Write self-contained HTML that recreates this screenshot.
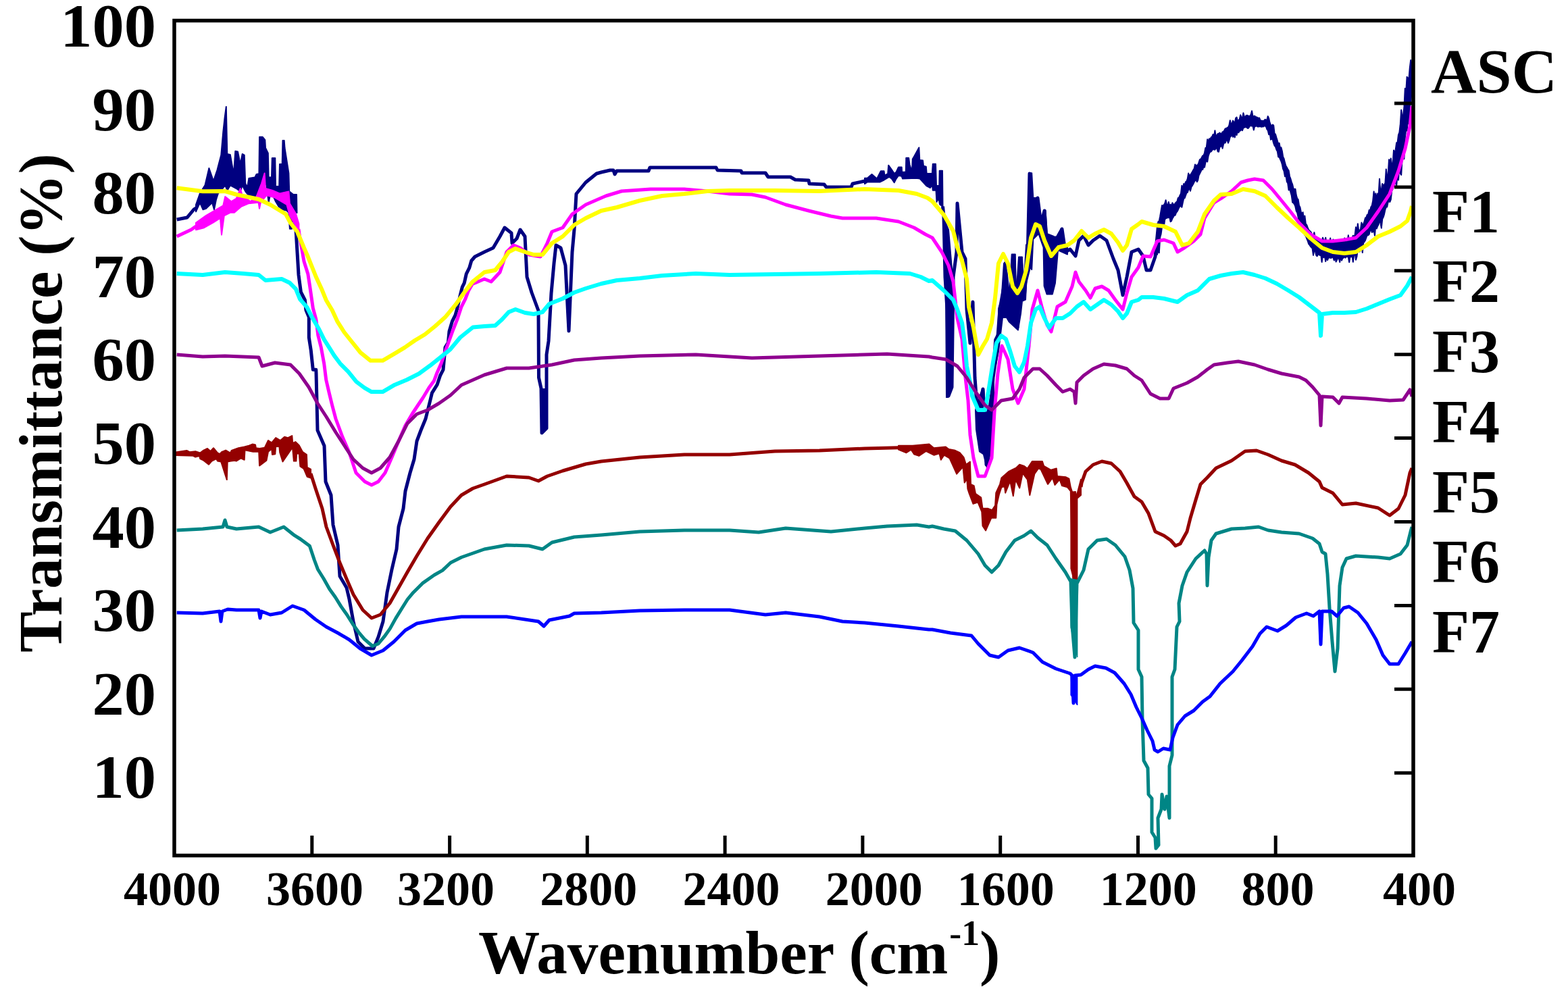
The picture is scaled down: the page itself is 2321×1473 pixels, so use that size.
<!DOCTYPE html>
<html><head><meta charset="utf-8"><style>
html,body{margin:0;padding:0;background:#fff;}
svg{display:block;}
text{font-family:"Liberation Serif","Times New Roman",serif;font-weight:bold;fill:#000;}
</style></head><body>
<svg width="2321" height="1473" viewBox="0 0 2321 1473">
<rect width="2321" height="1473" fill="#fff"/>
<g fill="none" stroke-linejoin="round" stroke-linecap="butt">
<path d="M261.7 325.0L277.0 322.0L287.0 310.0L290.0 308.0" stroke="#000080" stroke-width="5"/>
<path d="M290.0 303.0L296.0 286.0L303.4 274.4L309.4 249.0L316.0 268.0L321.4 252.0L327.3 229.6L330.3 195.3L332.6 174.4L334.8 158.0L336.3 228.0L340.8 229.0L346.0 258.0L348.3 223.7L352.0 224.4L355.7 243.0L358.7 228.0L361.7 229.6L363.2 271.5L366.2 277.4L368.4 264.0L377.4 262.5L379.6 258.0L383.4 257.3L384.1 202.7L388.6 202.7L392.3 207.2L393.0 219.0L396.8 226.6L397.6 262.5L402.0 262.5L402.8 234.0L407.3 234.0L408.0 276.0L413.2 276.0L414.0 243.0L417.7 243.0L418.5 208.0L420.7 208.0L421.5 219.0L427.4 256.5L428.2 283.4L434.2 288.0L436.0 288.0L439.0 288.0L439.5 315.0L439.5 315.0L436.0 314.0L433.4 314.8L431.9 338.7L428.9 338.7L427.4 314.8L424.4 311.8L418.5 310.3L412.5 305.8L408.0 298.3L403.5 288.0L399.8 289.4L397.6 299.8L394.6 274.4L391.6 271.5L385.6 271.5L382.6 285.0L379.6 288.0L376.6 292.4L369.2 291.0L363.2 283.4L358.7 274.4L355.7 283.4L349.8 279.0L340.8 274.4L336.3 282.0L333.3 274.4L327.3 282.0L322.9 286.4L320.0 295.4L317.0 310.3L314.0 300.0L305.0 308.8L300.5 310.3L296.0 300.0L290.0 313.3Z" fill="#000080" stroke="#000080" stroke-width="2"/>
<path d="M436.0 326.0L438.0 340.0L442.0 407.0L445.4 432.3L451.4 444.2L452.9 459.0L457.3 469.6L457.3 499.5L460.3 518.9L463.3 547.3L467.8 547.3L468.0 552.0L470.0 637.0L480.0 660.0L482.0 713.0L490.0 733.0L493.0 777.0L500.0 807.0L503.0 853.0L513.0 870.0L517.0 887.0L523.0 920.0L530.0 950.0L540.0 960.0L553.0 960.0L560.0 943.0L567.0 920.0L573.0 877.0L580.0 843.0L587.0 813.0L590.0 780.0L597.0 753.0L600.0 727.0L607.0 700.0L613.0 680.0L617.0 653.0L623.0 637.0L630.0 620.0L637.0 592.0L639.5 581.6L647.0 569.7L651.5 556.2L656.0 547.3L659.0 514.4L663.4 507.0L665.0 490.5L669.4 475.6L673.9 466.6L676.9 456.2L681.3 436.8L684.3 424.8L687.3 418.8L690.3 405.4L694.8 396.4L697.8 386.0L703.0 380.0L717.0 373.0L730.0 367.0L740.0 350.0L747.0 337.0L757.0 345.0L758.0 360.0L765.0 353.0L770.0 340.0L777.0 350.0L780.0 410.0L787.0 433.0L797.0 460.0L797.5 559.0L801.0 575.0L802.0 641.0L809.0 634.0L809.0 525.0L812.0 505.0L816.0 434.0L820.0 390.0L823.0 363.0L830.0 367.0L837.0 393.0L842.0 490.0L847.0 373.0L850.0 340.0L853.0 287.0L867.0 270.0L883.0 257.0L890.0 255.0L903.0 252.0L908.0 252.0L910.0 258.0L913.0 253.0L960.0 253.0L962.0 248.0L1060.0 248.0L1062.0 252.0L1097.0 253.0L1098.0 256.0L1133.0 256.0L1137.0 262.0L1170.0 262.0L1177.0 266.0L1197.0 267.0L1198.0 272.0L1220.0 273.0L1223.0 277.0L1260.0 277.0L1262.0 272.0L1280.0 268.0" stroke="#000080" stroke-width="5"/>
<path d="M1280.0 263.7L1283.8 263.7L1290.5 258.0L1298.0 264.6L1303.8 253.2L1308.5 253.2L1309.5 259.9L1314.2 257.0L1315.2 244.7L1320.0 251.3L1323.7 257.0L1326.6 254.7L1330.0 247.5L1334.7 247.5L1335.1 254.7L1340.8 254.7L1341.3 233.7L1345.1 233.7L1346.5 243.7L1349.9 254.2L1350.8 235.6L1353.2 231.4L1360.3 218.5L1361.3 237.1L1366.0 237.5L1367.0 245.6L1370.8 246.6L1371.7 257.0L1379.8 257.0L1380.8 242.8L1385.0 242.8L1386.0 275.1L1390.3 275.1L1390.7 252.8L1395.0 252.8L1395.5 305.5L1395.5 305.5L1395.0 305.5L1391.2 302.7L1389.3 293.2L1386.5 298.9L1385.5 281.7L1380.8 281.7L1379.8 273.2L1377.0 278.0L1371.3 275.1L1361.7 264.6L1356.0 263.7L1336.1 264.6L1334.7 260.8L1330.0 259.9L1326.6 264.6L1323.7 270.3L1320.0 264.6L1316.1 261.8L1308.5 266.5L1302.8 269.4L1283.8 269.4L1280.0 272.2Z" fill="#000080" stroke="#000080" stroke-width="2"/>
<path d="M1395.5 305.5L1397.0 320.0L1399.0 410.0L1402.0 458.0L1404.0 586.0L1409.0 573.0L1411.0 410.0L1416.0 373.0L1417.0 301.0L1424.0 373.0L1429.0 383.0L1431.0 458.0L1436.0 508.0L1440.0 447.0L1443.0 559.0L1448.0 627.0L1453.0 661.0L1455.0 576.0L1460.0 688.0L1465.0 627.0L1470.0 559.0L1475.0 525.0L1480.0 458.0L1485.0 430.0L1489.0 403.0L1495.0 458.0L1500.0 380.0L1506.0 485.0L1511.0 383.0L1516.0 441.0L1521.0 383.0L1524.0 257.0L1529.0 349.0L1536.0 293.0L1541.0 332.0L1546.0 312.0L1550.0 366.0L1553.0 430.0L1558.0 396.0L1562.0 352.0L1567.0 359.0L1572.0 339.0L1577.0 373.0L1584.0 369.0L1592.0 379.0L1597.0 356.0L1604.0 349.0L1611.0 363.0L1618.0 356.0L1628.0 349.0L1638.0 356.0L1648.0 383.0L1655.0 400.0L1662.0 437.0L1668.0 410.0L1675.0 373.0L1685.0 369.0L1692.0 379.0L1697.0 400.0L1703.0 400.0L1710.0 380.0L1715.0 330.0" stroke="#000080" stroke-width="5"/>
<path d="M1713.0 343.8L1714.4 328.1L1715.8 327.3L1717.2 320.2L1718.6 312.0L1720.0 304.1L1721.4 304.8L1722.8 303.1L1724.2 301.3L1725.6 296.3L1727.0 302.6L1728.4 305.8L1729.8 298.9L1731.2 305.1L1732.6 302.7L1734.0 305.0L1735.4 300.2L1736.8 302.4L1738.2 304.2L1739.6 300.7L1741.0 299.4L1742.4 298.3L1743.8 293.1L1745.2 292.4L1746.6 289.1L1748.0 286.4L1749.4 274.7L1750.8 280.6L1752.2 272.0L1753.6 273.8L1755.0 269.3L1756.4 268.4L1757.8 264.6L1759.2 256.5L1760.6 260.4L1762.0 259.0L1763.4 256.8L1764.8 254.5L1766.2 251.9L1767.6 249.9L1769.0 243.4L1770.4 245.6L1771.8 244.4L1773.2 244.1L1774.6 240.4L1776.0 236.1L1777.4 235.5L1778.8 233.3L1780.2 230.4L1781.6 230.2L1783.0 226.3L1784.4 219.0L1785.8 218.5L1787.2 206.3L1788.6 209.3L1790.0 205.3L1791.4 206.1L1792.8 203.3L1794.2 202.2L1795.6 199.0L1797.0 201.9L1798.4 193.2L1799.8 201.9L1801.2 200.5L1802.6 197.9L1804.0 197.7L1805.4 196.5L1806.8 198.1L1808.2 197.8L1809.6 195.2L1811.0 195.1L1812.4 192.8L1813.8 190.2L1815.2 190.3L1816.6 189.1L1818.0 188.4L1819.4 185.4L1820.8 178.2L1822.2 184.7L1823.6 182.8L1825.0 178.6L1826.4 180.8L1827.8 181.9L1829.2 174.7L1830.6 173.6L1832.0 179.2L1833.4 178.0L1834.8 176.4L1836.2 170.2L1837.6 174.0L1839.0 175.2L1840.4 167.3L1841.8 172.3L1843.2 174.2L1844.6 170.9L1846.0 170.7L1847.4 171.3L1848.8 171.9L1850.2 171.8L1851.6 169.4L1853.0 164.3L1854.4 171.5L1855.8 172.3L1857.2 171.5L1858.6 173.4L1860.0 173.3L1861.4 174.2L1862.8 174.9L1864.2 174.6L1865.6 178.2L1867.0 178.7L1868.4 178.8L1869.8 179.2L1871.2 178.4L1872.6 176.8L1874.0 178.1L1875.4 177.0L1876.8 172.1L1878.2 175.2L1879.6 181.6L1881.0 184.8L1882.4 187.5L1883.8 184.5L1885.2 185.7L1886.6 197.9L1888.0 198.7L1889.4 203.6L1890.8 208.0L1892.2 213.2L1893.6 211.8L1895.0 219.5L1896.4 218.2L1897.8 223.4L1899.2 232.1L1900.6 234.9L1902.0 240.9L1903.4 245.5L1904.8 247.8L1906.2 250.5L1907.6 252.3L1909.0 261.0L1910.4 264.7L1911.8 269.6L1913.2 273.2L1914.6 279.2L1916.0 280.0L1917.4 279.7L1918.8 289.1L1920.2 293.9L1921.6 295.3L1923.0 304.2L1924.4 306.8L1925.8 313.6L1927.2 316.4L1928.6 314.2L1930.0 325.0L1931.4 319.6L1932.8 331.2L1934.2 332.8L1935.6 336.6L1937.0 339.9L1938.4 341.7L1939.8 342.5L1941.2 344.8L1942.6 348.4L1944.0 350.0L1945.4 344.1L1946.8 353.3L1948.2 351.1L1949.6 352.7L1951.0 354.9L1952.4 356.2L1953.8 356.9L1955.2 357.6L1956.6 357.2L1958.0 351.7L1959.4 355.9L1960.8 358.0L1962.2 351.7L1963.6 359.7L1965.0 359.5L1966.4 358.2L1967.8 359.1L1969.2 352.6L1970.6 360.0L1972.0 360.6L1973.4 354.4L1974.8 356.9L1976.2 357.8L1977.6 360.5L1979.0 359.3L1980.4 355.4L1981.8 358.8L1983.2 355.7L1984.6 357.0L1986.0 355.2L1987.4 359.4L1988.8 356.9L1990.2 352.5L1991.6 355.2L1993.0 359.1L1994.4 358.6L1995.8 348.3L1997.2 356.3L1998.6 352.9L2000.0 355.0L2001.4 353.4L2002.8 348.8L2004.2 351.1L2005.6 347.7L2007.0 336.2L2008.4 346.4L2009.8 331.2L2011.2 341.5L2012.6 341.3L2014.0 339.0L2015.4 329.4L2016.8 334.6L2018.2 331.5L2019.6 327.5L2021.0 322.4L2022.4 321.9L2023.8 317.9L2025.2 317.4L2026.6 311.1L2028.0 311.4L2029.4 306.2L2030.8 304.2L2032.2 297.1L2033.6 283.5L2035.0 292.6L2036.4 286.3L2037.8 294.8L2039.2 286.5L2040.6 288.3L2042.0 264.8L2043.4 283.9L2044.8 281.4L2046.2 272.0L2047.6 274.8L2049.0 273.4L2050.4 271.1L2051.8 250.4L2053.2 262.4L2054.6 260.3L2056.0 236.2L2057.4 239.9L2058.8 234.4L2060.2 245.1L2061.6 243.4L2063.0 222.4L2064.4 228.5L2065.8 221.2L2067.2 211.2L2068.6 211.0L2070.0 199.7L2071.4 196.0L2072.8 183.9L2074.2 162.7L2075.6 174.9L2077.0 170.4L2078.4 159.5L2079.8 130.9L2081.2 135.9L2082.6 113.8L2084.0 115.5L2085.4 117.6L2086.8 100.4L2088.2 89.0L2089.6 93.8L2089.6 137.4L2088.2 150.7L2086.8 158.9L2085.4 183.6L2084.0 176.7L2082.6 193.6L2081.2 192.5L2079.8 203.3L2078.4 235.3L2077.0 217.8L2075.6 235.0L2074.2 258.9L2072.8 256.7L2071.4 243.5L2070.0 266.6L2068.6 256.5L2067.2 275.2L2065.8 268.8L2064.4 271.8L2063.0 275.1L2061.6 279.8L2060.2 282.5L2058.8 295.3L2057.4 299.0L2056.0 298.1L2054.6 299.5L2053.2 306.4L2051.8 306.6L2050.4 310.5L2049.0 317.1L2047.6 321.6L2046.2 324.3L2044.8 337.7L2043.4 329.5L2042.0 327.0L2040.6 332.2L2039.2 334.7L2037.8 338.4L2036.4 332.5L2035.0 348.7L2033.6 341.0L2032.2 343.3L2030.8 343.9L2029.4 339.5L2028.0 341.6L2026.6 347.0L2025.2 348.2L2023.8 348.1L2022.4 351.6L2021.0 355.8L2019.6 358.1L2018.2 359.4L2016.8 374.0L2015.4 364.6L2014.0 364.9L2012.6 372.6L2011.2 369.7L2009.8 369.3L2008.4 380.0L2007.0 384.7L2005.6 373.4L2004.2 377.4L2002.8 387.8L2001.4 377.7L2000.0 380.3L1998.6 379.3L1997.2 388.2L1995.8 380.8L1994.4 379.9L1993.0 379.7L1991.6 381.7L1990.2 380.1L1988.8 381.7L1987.4 382.4L1986.0 385.5L1984.6 379.3L1983.2 388.0L1981.8 382.6L1980.4 381.5L1979.0 384.9L1977.6 387.5L1976.2 379.8L1974.8 385.4L1973.4 381.7L1972.0 380.1L1970.6 381.9L1969.2 381.7L1967.8 381.3L1966.4 381.7L1965.0 385.0L1963.6 380.7L1962.2 387.1L1960.8 378.0L1959.4 381.1L1958.0 377.5L1956.6 388.0L1955.2 376.3L1953.8 378.0L1952.4 376.7L1951.0 376.7L1949.6 379.2L1948.2 377.7L1946.8 371.2L1945.4 370.2L1944.0 377.9L1942.6 367.9L1941.2 366.2L1939.8 364.8L1938.4 362.5L1937.0 360.8L1935.6 356.3L1934.2 353.0L1932.8 349.4L1931.4 347.9L1930.0 342.8L1928.6 342.6L1927.2 338.6L1925.8 335.2L1924.4 329.6L1923.0 330.6L1921.6 321.6L1920.2 314.8L1918.8 312.5L1917.4 305.7L1916.0 302.4L1914.6 300.4L1913.2 299.6L1911.8 289.6L1910.4 284.4L1909.0 279.6L1907.6 281.4L1906.2 271.1L1904.8 268.9L1903.4 259.9L1902.0 261.2L1900.6 253.4L1899.2 250.2L1897.8 243.1L1896.4 238.7L1895.0 235.9L1893.6 232.1L1892.2 232.4L1890.8 223.9L1889.4 221.4L1888.0 217.1L1886.6 215.7L1885.2 211.9L1883.8 206.5L1882.4 205.6L1881.0 206.8L1879.6 197.1L1878.2 199.3L1876.8 193.2L1875.4 191.3L1874.0 187.5L1872.6 186.4L1871.2 186.3L1869.8 187.6L1868.4 187.4L1867.0 187.9L1865.6 186.9L1864.2 187.4L1862.8 187.3L1861.4 187.5L1860.0 186.2L1858.6 186.9L1857.2 187.1L1855.8 192.6L1854.4 186.2L1853.0 186.6L1851.6 186.2L1850.2 185.8L1848.8 188.6L1847.4 190.0L1846.0 189.4L1844.6 187.7L1843.2 188.4L1841.8 188.6L1840.4 189.4L1839.0 193.2L1837.6 191.1L1836.2 193.6L1834.8 193.7L1833.4 196.3L1832.0 194.0L1830.6 200.0L1829.2 195.7L1827.8 203.4L1826.4 199.5L1825.0 202.8L1823.6 198.6L1822.2 201.9L1820.8 202.7L1819.4 208.2L1818.0 211.7L1816.6 207.5L1815.2 207.1L1813.8 211.4L1812.4 211.1L1811.0 213.6L1809.6 219.7L1808.2 214.2L1806.8 217.0L1805.4 218.0L1804.0 224.8L1802.6 224.3L1801.2 219.0L1799.8 219.4L1798.4 221.7L1797.0 221.5L1795.6 220.7L1794.2 222.5L1792.8 224.5L1791.4 224.6L1790.0 226.9L1788.6 231.0L1787.2 239.6L1785.8 236.7L1784.4 240.7L1783.0 247.7L1781.6 246.5L1780.2 251.1L1778.8 251.0L1777.4 254.0L1776.0 256.9L1774.6 259.4L1773.2 266.7L1771.8 269.2L1770.4 265.7L1769.0 267.5L1767.6 269.5L1766.2 272.6L1764.8 274.9L1763.4 277.0L1762.0 282.8L1760.6 278.5L1759.2 280.7L1757.8 284.9L1756.4 285.6L1755.0 289.4L1753.6 293.3L1752.2 293.8L1750.8 300.1L1749.4 306.8L1748.0 305.1L1746.6 305.2L1745.2 307.4L1743.8 310.7L1742.4 313.4L1741.0 314.8L1739.6 318.7L1738.2 318.6L1736.8 321.2L1735.4 323.4L1734.0 327.2L1732.6 328.2L1731.2 320.8L1729.8 322.3L1728.4 322.0L1727.0 322.9L1725.6 322.9L1724.2 325.3L1722.8 335.2L1721.4 333.1L1720.0 335.9L1718.6 346.4L1717.2 351.1L1715.8 374.2L1714.4 370.0L1713.0 376.9Z" fill="#000080" stroke="#000080" stroke-width="2"/>
<path d="M1443.0 607.0L1453.0 575.0L1457.0 575.0L1460.0 610.0L1463.0 600.0L1469.0 560.0L1472.0 534.0L1472.0 620.0L1467.0 669.0L1463.0 693.0L1460.0 693.0L1455.0 673.0L1449.0 669.0L1444.0 636.0Z" fill="#000080"/>
<path d="M1396.0 318.0L1399.0 410.0L1400.0 589.0L1404.0 589.0L1411.0 571.0L1411.0 410.0L1405.0 340.0Z" fill="#000080"/>
<path d="M1470.2 533.4L1472.2 502.8L1477.3 492.6L1478.3 456.0L1482.4 443.7L1486.0 390.0L1489.0 386.0L1491.0 420.0L1494.0 440.0L1497.7 376.5L1502.8 376.5L1504.0 440.0L1508.0 380.6L1513.0 380.6L1515.0 430.0L1519.0 362.2L1521.0 362.2L1523.0 340.0L1524.2 256.3L1527.2 256.3L1529.3 293.0L1535.4 293.0L1538.4 317.4L1542.5 321.5L1547.6 311.3L1549.6 346.0L1559.8 350.0L1561.9 354.0L1571.0 337.8L1573.0 358.2L1580.0 366.3L1580.0 376.5L1566.0 370.4L1561.9 419.3L1557.8 435.6L1549.6 435.6L1545.6 423.4L1544.6 366.3L1537.4 346.0L1529.3 354.1L1527.2 399.0L1525.2 394.8L1519.1 419.3L1518.0 443.7L1513.0 445.8L1511.0 464.0L1506.9 488.6L1493.6 476.3L1490.0 470.0L1484.0 470.0L1478.0 520.0L1474.0 540.0L1470.2 533.4Z" fill="#000080" stroke="#000080" stroke-width="2"/>
<path d="M800.6 575.0L800.6 642.7L810.8 633.5L810.8 575.0Z" fill="#000080"/>
<path d="M261.7 350.0L283.0 340.0L290.0 335.0" stroke="#ff00ff" stroke-width="5"/>
<path d="M290.0 329.7L305.0 319.0L320.0 310.3L330.3 304.3L333.3 291.0L342.3 298.3L349.8 293.9L355.7 279.0L358.7 289.4L370.7 298.3L379.6 291.0L387.1 271.5L391.6 256.5L393.0 279.0L403.5 282.0L414.0 286.4L427.4 283.4L428.9 301.3L437.9 316.3L442.4 331.2L442.4 346.2L437.9 334.2L428.9 319.3L424.4 302.8L406.5 292.4L394.6 289.4L386.0 299.0L384.0 308.8L382.6 299.8L367.7 301.3L357.2 305.8L346.8 314.8L340.8 314.8L331.8 319.3L328.0 347.6L326.0 323.0L315.4 329.7L302.0 337.2L290.0 340.2Z" fill="#ff00ff" stroke="#ff00ff" stroke-width="2"/>
<path d="M442.0 339.0L443.0 347.0L450.0 387.0L455.8 405.4L458.8 424.8L463.3 456.2L467.8 472.6L470.8 496.5L475.3 514.4L479.7 538.3L482.7 562.2L487.2 581.6L491.7 600.0L497.0 620.0L507.0 647.0L517.0 670.0L527.0 700.0L540.0 713.0L550.0 718.0L560.0 713.0L570.0 700.0L580.0 677.0L590.0 653.0L600.0 630.0L610.0 613.0L618.6 600.0L626.0 589.0L635.0 574.0L642.5 563.7L647.0 551.7L653.0 538.3L659.0 520.4L665.0 504.0L671.0 487.5L676.9 472.6L682.8 454.7L688.8 442.7L693.3 430.8L699.3 420.3L703.0 419.0L717.0 413.0L727.0 417.0L740.0 403.0L750.0 373.0L760.0 363.0L770.0 367.0L783.0 377.0L800.0 380.0L810.0 360.0L817.0 343.0L833.0 337.0L847.0 317.0L867.0 303.0L890.0 293.0L897.0 290.0L920.0 283.0L963.0 280.0L1013.0 280.0L1047.0 283.0L1080.0 287.0L1113.0 288.0L1133.0 292.0L1163.0 303.0L1197.0 312.0L1230.0 320.0L1247.0 323.0L1297.0 323.0L1330.0 328.0L1353.0 337.0L1370.0 347.0L1380.0 352.0L1394.0 373.0L1404.0 393.0L1411.0 417.0L1417.0 471.0L1424.0 502.0L1429.0 559.0L1433.0 593.0L1436.0 644.0L1441.0 678.0L1448.0 705.0L1458.0 705.0L1468.0 678.0L1472.0 610.0L1477.0 553.0L1483.0 512.0L1492.0 532.0L1499.0 576.0L1507.0 597.0L1516.0 576.0L1523.0 512.0L1528.0 458.0L1536.0 430.0L1543.0 458.0L1550.0 481.0L1556.0 491.0L1565.0 454.0L1577.0 447.0L1587.0 424.0L1592.0 403.0L1597.0 417.0L1607.0 430.0L1614.0 441.0L1621.0 427.0L1631.0 424.0L1641.0 430.0L1651.0 444.0L1662.0 458.0L1668.0 434.0L1675.0 410.0L1685.0 396.0L1692.0 379.0L1703.0 380.0L1713.0 357.0L1723.0 355.0L1737.0 360.0L1743.0 373.0L1753.0 367.0L1767.0 357.0L1777.0 347.0L1783.0 323.0L1797.0 300.0L1810.0 292.0L1823.0 283.0L1837.0 270.0L1847.0 267.0L1857.0 265.0L1870.0 267.0L1883.0 280.0L1897.0 297.0L1910.0 313.0L1923.0 330.0L1940.0 347.0L1957.0 357.0L1973.0 357.0L1990.0 355.0L2007.0 352.0L2023.0 337.0L2040.0 313.0L2057.0 287.0L2070.0 253.0L2080.0 220.0L2087.0 187.0L2090.0 157.0" stroke="#ff00ff" stroke-width="5"/>
<path d="M261.7 278.3L300.0 283.3L333.0 283.0L350.0 288.0L383.0 295.0L400.0 303.0L423.0 317.0L430.0 330.0L440.0 343.0L450.0 367.0L455.8 380.0L461.8 395.0L467.8 410.0L476.7 429.3L482.7 444.2L491.7 459.2L499.2 475.6L509.6 492.0L521.6 507.0L533.5 521.9L548.4 533.8L566.4 533.8L584.3 523.4L599.2 514.4L614.1 504.0L629.1 495.0L644.0 483.0L659.0 469.6L673.9 451.7L688.8 430.8L699.3 417.3L717.0 403.0L733.0 400.0L743.0 388.0L753.0 373.0L763.0 368.0L777.0 373.0L790.0 377.0L803.0 377.0L817.0 360.0L833.0 350.0L850.0 333.0L867.0 323.0L890.0 312.0L913.0 307.0L947.0 297.0L980.0 290.0L1013.0 287.0L1047.0 283.0L1080.0 282.0L1147.0 282.0L1213.0 283.0L1280.0 280.0L1330.0 282.0L1357.0 287.0L1373.0 293.0L1380.0 298.0L1397.0 318.0L1411.0 342.0L1417.0 366.0L1424.0 386.0L1431.0 413.0L1434.0 454.0L1441.0 485.0L1448.0 525.0L1455.0 512.0L1461.0 502.0L1468.0 478.0L1473.0 441.0L1478.0 390.0L1485.0 376.0L1492.0 390.0L1499.0 424.0L1506.0 434.0L1512.0 424.0L1519.0 400.0L1526.0 352.0L1533.0 332.0L1539.0 335.0L1546.0 356.0L1556.0 379.0L1567.0 366.0L1580.0 363.0L1590.0 356.0L1601.0 342.0L1611.0 352.0L1621.0 346.0L1634.0 340.0L1645.0 346.0L1655.0 359.0L1662.0 371.0L1668.0 363.0L1675.0 339.0L1685.0 332.0L1690.0 328.0L1707.0 333.0L1723.0 335.0L1740.0 343.0L1750.0 363.0L1760.0 360.0L1773.0 343.0L1783.0 317.0L1797.0 297.0L1807.0 288.0L1823.0 287.0L1840.0 280.0L1857.0 283.0L1873.0 290.0L1890.0 307.0L1907.0 323.0L1923.0 337.0L1940.0 353.0L1957.0 367.0L1973.0 373.0L1990.0 375.0L2007.0 373.0L2023.0 363.0L2040.0 350.0L2057.0 343.0L2073.0 335.0L2083.0 327.0L2088.0 313.0L2090.0 305.0" stroke="#ffff00" stroke-width="6"/>
<path d="M261.7 405.0L300.0 407.0L333.0 403.0L360.0 405.0L383.0 407.0L393.0 415.0L417.0 413.0L429.0 418.8L437.9 427.8L443.9 442.7L454.3 454.7L461.8 469.6L472.3 487.5L479.7 502.5L487.2 514.4L494.7 526.4L503.6 538.3L515.6 550.3L527.5 565.2L539.5 574.1L549.9 580.1L566.4 580.1L584.3 569.7L602.2 562.2L620.1 553.2L636.5 541.3L651.5 529.3L666.4 517.4L681.3 499.5L700.0 484.5L717.0 483.0L733.0 482.0L743.0 473.0L753.0 462.0L763.0 458.0L777.0 463.0L790.0 465.0L803.0 462.0L813.0 450.0L833.0 442.0L850.0 433.0L867.0 427.0L890.0 420.0L913.0 415.0L947.0 412.0L980.0 408.0L1030.0 405.0L1080.0 407.0L1147.0 406.0L1213.0 405.0L1297.0 403.0L1347.0 405.0L1363.0 410.0L1375.0 416.0L1380.0 415.0L1397.0 430.0L1411.0 444.0L1417.0 458.0L1424.0 478.0L1428.0 508.0L1431.0 542.0L1436.0 566.0L1439.0 586.0L1448.0 607.0L1458.0 607.0L1463.0 580.0L1470.0 536.0L1475.0 508.0L1482.0 497.0L1489.0 502.0L1495.0 519.0L1502.0 542.0L1509.0 551.0L1516.0 536.0L1521.0 512.0L1526.0 478.0L1533.0 458.0L1539.0 454.0L1546.0 471.0L1553.0 485.0L1563.0 471.0L1573.0 471.0L1584.0 464.0L1594.0 454.0L1604.0 447.0L1614.0 458.0L1624.0 451.0L1634.0 444.0L1645.0 451.0L1655.0 461.0L1662.0 471.0L1668.0 464.0L1675.0 447.0L1685.0 444.0L1690.0 440.0L1707.0 440.0L1723.0 442.0L1743.0 447.0L1757.0 437.0L1773.0 430.0L1790.0 413.0L1807.0 408.0L1823.0 405.0L1840.0 403.0L1857.0 407.0L1873.0 412.0L1890.0 420.0L1907.0 430.0L1923.0 440.0L1940.0 453.0L1953.0 463.0L1955.0 497.0L1957.0 465.0L1973.0 463.0L1990.0 463.0L2007.0 462.0L2023.0 457.0L2040.0 450.0L2057.0 443.0L2073.0 437.0L2083.0 423.0L2090.0 410.0" stroke="#00ffff" stroke-width="6"/>
<path d="M261.7 525.0L300.0 528.0L333.0 527.0L383.0 529.0L388.0 542.0L407.0 537.0L430.0 540.0L443.0 553.0L457.0 573.0L470.0 597.0L483.0 617.0L497.0 640.0L510.0 660.0L523.0 680.0L537.0 693.0L550.0 700.0L563.0 693.0L577.0 677.0L590.0 653.0L603.0 627.0L617.0 613.0L633.0 607.0L650.0 597.0L667.0 585.0L683.0 570.0L717.0 555.0L750.0 545.0L783.0 545.0L817.0 540.0L850.0 533.0L890.0 530.0L947.0 527.0L1030.0 525.0L1113.0 530.0L1213.0 527.0L1313.0 524.0L1375.0 528.0L1380.0 529.0L1400.0 532.0L1417.0 542.0L1431.0 559.0L1444.0 580.0L1458.0 600.0L1468.0 607.0L1482.0 593.0L1499.0 590.0L1509.0 576.0L1516.0 559.0L1529.0 546.0L1539.0 546.0L1550.0 556.0L1563.0 570.0L1573.0 580.0L1584.0 576.0L1590.0 580.0L1592.0 597.0L1594.0 566.0L1604.0 556.0L1618.0 546.0L1634.0 539.0L1651.0 541.0L1668.0 546.0L1679.0 556.0L1690.0 563.0L1703.0 583.0L1717.0 590.0L1730.0 590.0L1737.0 575.0L1757.0 567.0L1773.0 558.0L1787.0 547.0L1797.0 540.0L1817.0 537.0L1833.0 535.0L1857.0 540.0L1877.0 547.0L1897.0 553.0L1923.0 558.0L1933.0 563.0L1943.0 573.0L1953.0 585.0L1955.0 630.0L1957.0 587.0L1973.0 588.0L1982.0 597.0L1987.0 588.0L2023.0 590.0L2057.0 593.0L2077.0 592.0L2087.0 577.0L2090.0 587.0" stroke="#8f008f" stroke-width="5"/>
<path d="M260.0 669.6L276.4 667.0L280.7 669.2L289.3 668.3L296.2 670.5L301.4 666.6L307.0 664.0L311.7 667.9L316.0 663.2L322.0 670.5L325.5 672.2L328.0 669.2L334.1 666.6L341.0 670.5L342.7 667.0L353.0 663.2L361.7 661.5L368.6 659.7L373.7 657.6L378.0 658.4L378.9 663.2L384.1 664.0L391.8 662.7L397.0 652.0L402.2 655.4L408.2 648.1L415.1 652.0L421.1 646.8L426.3 648.1L432.3 645.1L433.2 655.9L437.5 654.1L442.7 659.3L447.8 668.8L453.9 673.1L454.7 692.0L460.0 694.6L460.0 707.6L454.7 705.8L449.6 693.8L444.4 690.3L442.7 671.4L439.2 671.4L438.4 682.6L434.9 682.6L433.2 664.5L431.5 664.5L418.5 683.4L414.2 669.6L413.4 661.0L408.2 661.0L407.3 672.2L403.0 673.1L402.2 664.5L397.0 668.8L394.4 681.7L384.1 689.5L383.2 668.8L374.6 668.8L362.5 666.2L361.7 680.8L356.5 678.3L349.6 682.6L347.9 681.7L341.9 682.6L336.7 683.4L335.8 710.1L327.2 683.4L322.0 682.6L320.3 679.1L313.4 682.6L309.1 687.7L301.4 681.7L296.2 679.1L295.3 674.8L289.3 676.5L285.9 674.8L260.0 674.0Z" fill="#940000" stroke="#940000" stroke-width="2"/>
<path d="M460.0 701.0L467.0 723.0L477.0 753.0L483.0 780.0L493.0 807.0L503.0 833.0L513.0 857.0L523.0 880.0L537.0 903.0L550.0 915.0L563.0 910.0L577.0 893.0L590.0 870.0L603.0 847.0L617.0 823.0L633.0 797.0L650.0 773.0L667.0 750.0L683.0 733.0L700.0 723.0L717.0 717.0L750.0 705.0L783.0 707.0L797.0 712.0L810.0 705.0L833.0 697.0L867.0 687.0L890.0 683.0L947.0 677.0L1013.0 673.0L1080.0 673.0L1147.0 668.0L1213.0 667.0L1280.0 664.0L1330.0 662.7" stroke="#940000" stroke-width="5"/>
<path d="M1330.0 659.8L1350.9 659.8L1375.4 657.5L1382.3 663.3L1399.8 661.5L1404.5 665.0L1413.8 666.8L1420.7 670.2L1426.6 677.2L1430.0 687.7L1435.9 683.6L1437.0 716.8L1441.7 719.1L1444.0 730.7L1452.2 736.6L1454.5 752.8L1462.6 752.8L1468.4 755.2L1473.1 748.2L1474.3 729.6L1480.1 716.8L1482.4 707.5L1492.9 698.2L1504.5 692.3L1509.2 687.7L1516.1 690.0L1520.8 693.5L1527.8 683.0L1542.9 683.0L1545.2 690.0L1555.7 695.8L1563.8 693.5L1565.0 705.1L1577.8 706.3L1582.4 708.6L1584.8 721.4L1587.1 728.4L1592.0 728.0L1593.0 736.6L1600.0 709.8L1600.0 733.1L1593.0 738.9L1593.0 790.0L1591.0 864.0L1588.5 864.0L1586.0 790.0L1584.8 727.2L1580.1 721.4L1572.0 719.1L1568.5 709.8L1561.5 717.9L1558.0 707.5L1551.0 716.8L1540.6 694.7L1537.1 693.5L1531.3 701.7L1524.3 733.1L1520.8 709.8L1513.8 700.5L1509.2 722.6L1503.3 709.8L1499.8 734.2L1495.2 712.1L1488.2 729.6L1487.0 720.3L1482.4 721.4L1478.9 731.9L1475.4 747.0L1474.3 766.8L1467.3 766.8L1459.1 785.4L1454.5 778.4L1453.3 757.5L1447.5 743.5L1440.5 745.9L1434.7 730.7L1432.4 723.8L1431.2 708.6L1427.7 714.5L1425.4 691.2L1416.1 701.7L1405.6 678.4L1397.5 673.7L1392.8 680.7L1390.5 671.4L1382.3 673.7L1370.7 667.9L1360.2 674.9L1353.3 672.6L1348.6 665.6L1341.6 670.2L1330.0 665.6Z" fill="#940000" stroke="#940000" stroke-width="2"/>
<path d="M1600.0 721.0L1601.0 715.0L1607.0 698.0L1618.0 688.0L1631.0 683.0L1645.0 686.0L1658.0 698.0L1668.0 715.0L1679.0 735.0L1690.0 743.0L1700.0 760.0L1710.0 787.0L1723.0 793.0L1733.0 800.0L1740.0 808.0L1747.0 805.0L1757.0 787.0L1762.0 767.0L1770.0 740.0L1777.0 717.0L1787.0 707.0L1800.0 693.0L1823.0 682.0L1843.0 668.0L1860.0 667.0L1877.0 673.0L1897.0 682.0L1917.0 688.0L1937.0 700.0L1953.0 713.0L1957.0 722.0L1973.0 730.0L1987.0 747.0L2007.0 745.0L2040.0 752.0L2057.0 763.0L2070.0 753.0L2080.0 733.0L2087.0 700.0L2090.0 693.0" stroke="#940000" stroke-width="5"/>
<path d="M1584.4 726.8L1584.4 841.5L1590.5 866.0L1595.4 858.5L1595.4 736.6Z" fill="#940000"/>
<path d="M261.7 785.0L300.0 783.0L330.0 780.0L333.0 770.0L336.0 780.0L350.0 783.0L383.0 780.0L400.0 788.0L420.0 780.0L436.0 792.7L444.6 798.0L458.4 808.3L465.3 829.0L470.4 842.7L479.0 856.5L487.7 872.0L496.3 884.0L504.9 897.9L513.5 910.0L522.1 923.7L530.7 935.8L539.4 946.1L551.4 956.5L560.0 953.0L568.7 942.7L577.3 930.6L585.9 915.1L594.5 901.3L603.1 887.5L611.7 877.2L625.5 863.4L642.8 851.3L655.0 844.4L667.0 833.0L683.0 825.0L717.0 813.0L750.0 807.0L783.0 808.0L803.0 813.0L817.0 803.0L850.0 795.0L890.0 792.0L947.0 787.0L1013.0 785.0L1080.0 785.0L1123.0 788.0L1163.0 782.0L1230.0 787.0L1280.0 782.0L1313.0 779.0L1357.0 777.0L1375.0 780.0L1380.0 779.0L1397.0 783.0L1414.0 786.0L1431.0 800.0L1448.0 820.0L1458.0 837.0L1468.0 847.0L1478.0 837.0L1489.0 817.0L1502.0 800.0L1516.0 793.0L1526.0 786.0L1536.0 796.0L1550.0 807.0L1563.0 827.0L1577.0 847.0L1585.0 861.0L1587.0 925.0L1591.0 973.0L1594.0 864.0L1604.0 844.0L1611.0 813.0L1624.0 800.0L1638.0 798.0L1651.0 807.0L1665.0 824.0L1672.0 844.0L1677.0 871.0L1678.0 922.0L1685.0 933.0L1685.0 991.0L1690.0 1002.0L1691.0 1065.0L1693.0 1126.0L1699.0 1137.0L1700.0 1176.0L1705.0 1182.0L1705.0 1232.0L1710.0 1240.0L1711.0 1256.0L1715.0 1251.0L1714.0 1211.0L1719.0 1198.0L1720.0 1176.0L1724.0 1198.0L1727.0 1179.0L1731.0 1211.0L1731.0 1134.0L1735.0 1118.0L1735.0 1002.0L1739.0 991.0L1742.0 928.0L1746.0 920.0L1745.0 893.0L1750.0 867.0L1757.0 847.0L1770.0 827.0L1783.0 815.0L1786.0 820.0L1787.0 867.0L1789.0 825.0L1793.0 800.0L1800.0 790.0L1823.0 783.0L1843.0 782.0L1863.0 780.0L1877.0 785.0L1897.0 788.0L1923.0 790.0L1943.0 797.0L1953.0 805.0L1957.0 817.0L1962.0 820.0L1965.0 850.0L1968.0 900.0L1972.0 950.0L1976.0 994.0L1980.0 960.0L1983.0 867.0L1987.0 840.0L1993.0 827.0L2007.0 823.0L2040.0 825.0L2057.0 827.0L2073.0 820.0L2083.0 807.0L2088.0 787.0L2090.0 780.0" stroke="#008585" stroke-width="5"/>
<path d="M1584.4 856.0L1584.4 929.0L1594.0 973.0L1595.4 973.0L1595.4 858.0Z" fill="#008585"/>
<path d="M261.7 907.0L300.0 908.0L325.0 905.0L327.0 920.0L329.0 905.0L337.0 902.0L350.0 903.0L383.0 903.0L385.0 915.0L387.0 905.0L400.0 910.0L417.0 907.0L433.0 897.0L450.0 903.0L467.0 917.0L483.0 928.0L500.0 937.0L517.0 947.0L533.0 960.0L550.0 970.0L567.0 963.0L583.0 950.0L600.0 933.0L617.0 923.0L633.0 920.0L650.0 917.0L683.0 913.0L750.0 913.0L797.0 920.0L805.0 927.0L813.0 918.0L843.0 912.0L850.0 908.0L890.0 907.0L947.0 904.0L1013.0 903.0L1080.0 903.0L1133.0 910.0L1163.0 907.0L1213.0 913.0L1247.0 920.0L1280.0 922.0L1330.0 927.0L1375.0 932.0L1380.0 932.0L1407.0 937.0L1438.0 941.0L1448.0 953.0L1465.0 970.0L1478.0 973.0L1492.0 963.0L1509.0 959.0L1529.0 966.0L1543.0 980.0L1563.0 990.0L1584.0 997.0L1587.0 1000.0L1589.0 1041.0L1591.0 1000.0L1600.0 999.0L1611.0 991.0L1621.0 986.0L1637.0 989.0L1650.0 996.0L1664.0 1012.0L1674.0 1028.0L1682.0 1047.0L1690.0 1063.0L1698.0 1081.0L1706.0 1097.0L1709.0 1110.0L1714.0 1113.0L1722.0 1108.0L1732.0 1110.0L1736.0 1092.0L1743.0 1073.0L1754.0 1060.0L1767.0 1052.0L1780.0 1039.0L1791.0 1031.0L1806.0 1012.0L1825.0 994.0L1838.0 978.0L1854.0 957.0L1865.0 938.0L1875.0 928.0L1891.0 934.0L1904.0 926.0L1918.0 914.0L1934.0 908.0L1944.0 912.0L1953.0 905.0L1955.0 954.0L1957.0 905.0L1971.0 905.0L1979.0 912.0L1989.0 900.0L1997.0 898.0L2010.0 907.0L2023.0 923.0L2037.0 947.0L2047.0 970.0L2057.0 983.0L2070.0 983.0L2080.0 967.0L2090.0 950.0" stroke="#0000ff" stroke-width="5"/>
<path d="M1584.4 1000.0L1584.4 1029.0L1594.0 1044.0L1595.4 1044.0L1595.4 1000.0Z" fill="#0000ff"/>
</g>
<rect x="258" y="30.5" width="1834" height="1236" fill="none" stroke="#000" stroke-width="5.5"/>
<path d="M461.8 1237V1266M665.6 1237V1266M869.3 1237V1266M1073.1 1237V1266M1276.9 1237V1266M1480.7 1237V1266M1684.5 1237V1266M1888.2 1237V1266M2064 1144.2H2092M2064 1020.3H2092M2064 896.4H2092M2064 772.5H2092M2064 648.6H2092M2064 524.7H2092M2064 400.8H2092M2064 276.9H2092M2064 153.0H2092" stroke="#000" stroke-width="5" fill="none"/>
<g font-size="90" transform="translate(231 0) scale(1.05 1)"><text x="0" y="69.0" text-anchor="end">100</text><text x="0" y="192.6" text-anchor="end">90</text><text x="0" y="316.2" text-anchor="end">80</text><text x="0" y="439.8" text-anchor="end">70</text><text x="0" y="563.4" text-anchor="end">60</text><text x="0" y="687.0" text-anchor="end">50</text><text x="0" y="810.6" text-anchor="end">40</text><text x="0" y="934.2" text-anchor="end">30</text><text x="0" y="1057.8" text-anchor="end">20</text><text x="0" y="1181.4" text-anchor="end">10</text></g>
<g font-size="72"><text x="255.0" y="1340" text-anchor="middle">4000</text><text x="466.1" y="1340" text-anchor="middle">3600</text><text x="660.0" y="1340" text-anchor="middle">3200</text><text x="871.2" y="1340" text-anchor="middle">2800</text><text x="1082.4" y="1340" text-anchor="middle">2400</text><text x="1293.7" y="1340" text-anchor="middle">2000</text><text x="1488.7" y="1340" text-anchor="middle">1600</text><text x="1699.8" y="1340" text-anchor="middle">1200</text><text x="1891.6" y="1340" text-anchor="middle">800</text><text x="2100.9" y="1340" text-anchor="middle">400</text></g>
<g font-size="90"><text x="2120" y="343.5">F1</text><text x="2120" y="447.3">F2</text><text x="2120" y="551.0">F3</text><text x="2120" y="655.0">F4</text><text x="2120" y="758.5">F5</text><text x="2120" y="862.0">F6</text><text x="2120" y="965.5">F7</text></g>
<text x="2118" y="137" font-size="93.5">ASC</text>
<text x="0" y="0" font-size="91" transform="translate(90.7 966) rotate(-90)">Transmittance (%)</text>
<text x="0" y="0" font-size="90" transform="translate(708 1441) scale(1.014 1)">Wavenumber (cm<tspan font-size="53" dy="-42" dx="2">-1</tspan><tspan dy="42">)</tspan></text>
</svg>
</body></html>
